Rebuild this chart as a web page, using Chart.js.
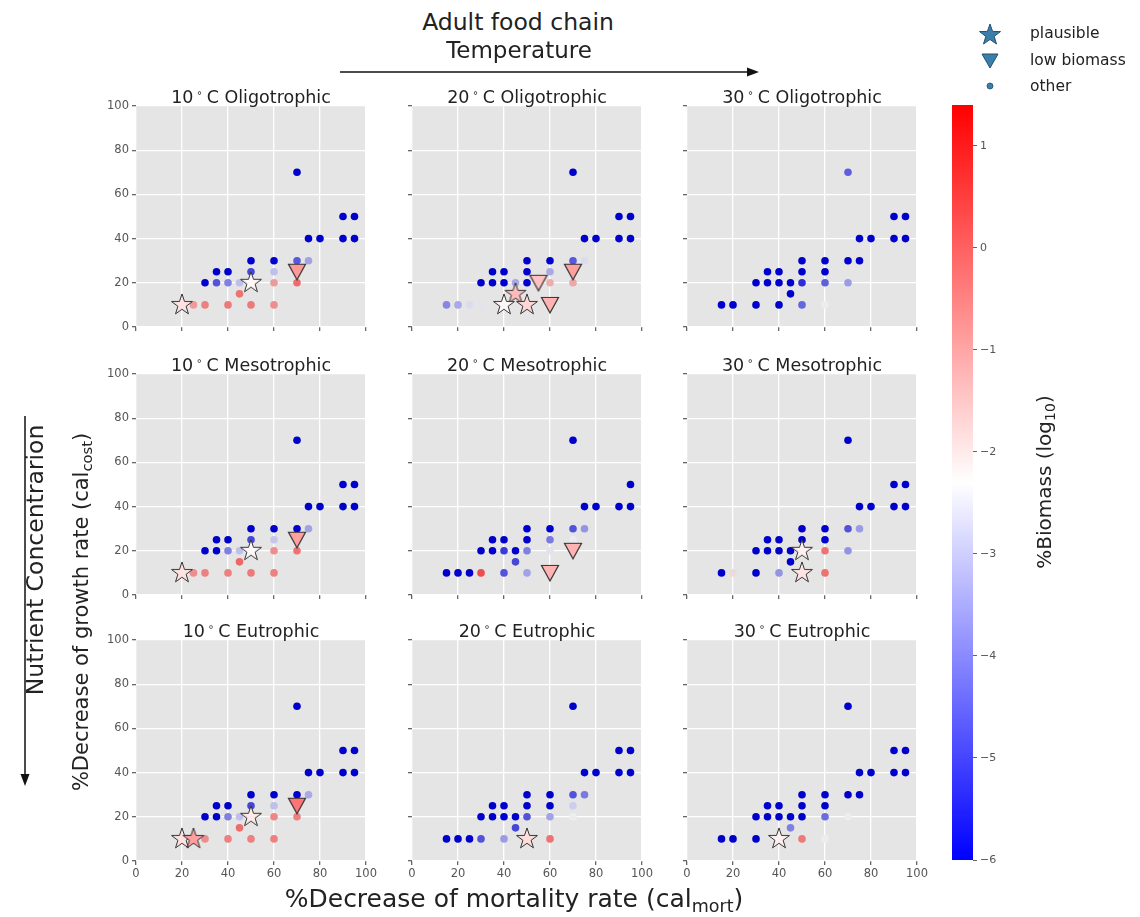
<!DOCTYPE html>
<html>
<head>
<meta charset="utf-8">
<script src="https://cdn.jsdelivr.net/npm/chart.js@4.4.0/dist/chart.umd.min.js"></script>
<style>
  body { margin: 0; width: 1140px; height: 917px; background: #fff; position: relative; overflow: hidden;
         font-family: "DejaVu Sans", sans-serif; color: #222; }
  .abs { position: absolute; white-space: nowrap; }
  .title { position: absolute; width: 230px; text-align: center; font-size: 17.5px; line-height: 20px; }
  .title sup { font-size: 10px; vertical-align: 7px; margin: 0 4px 0 3px; }
  .rot { position: absolute; white-space: nowrap; transform: translate(-50%, -50%) rotate(-90deg); }
  sub { font-size: 0.7em; vertical-align: -0.3em; }
  .leg { position: absolute; font-size: 15.5px; line-height: 18px; }
</style>
</head>
<body>

<script>
// ---- Data ----
const AXIS_TICKS = [0, 20, 40, 60, 80, 100];
const CBAR_TICKS = [1, 0, -1, -2, -3, -4, -5, -6];
const CBAR_MIN = -6, CBAR_MAX = 1.4;
const temps = ["10", "20", "30"];
const nutrients = ["Oligotrophic", "Mesotrophic", "Eutrophic"];

// every point: [% decrease mortality, % decrease growth, log10 %biomass]
const dots10Oligo = [[70,70,-6],[90,50,-6],[95,50,-6],[75,40,-6],[80,40,-6],[90,40,-6],[95,40,-6],
  [50,30,-6],[60,30,-6],[70,30,-4.5],[75,30,-3.4],[35,25,-6],[40,25,-6],[50,25,-4.8],[60,25,-3.0],
  [30,20,-6],[35,20,-4.6],[40,20,-3.9],[45,20,-3.0],[60,20,-1.0],[70,20,-0.3],[45,15,-0.4],
  [25,10,-1.0],[30,10,-0.6],[40,10,-0.5],[50,10,-0.5],[60,10,-0.8]];
const stars10Oligo = [[20,10,-1.9],[50,20,-2.2]];
const tris10Oligo = [[70,25,-0.8]];

const dots20Oligo = [[70,70,-6],[90,50,-6],[95,50,-6],[75,40,-6],[80,40,-6],[90,40,-6],[95,40,-6],
  [50,30,-6],[60,30,-6],[70,30,-4.5],[75,30,-2.6],[35,25,-6],[40,25,-6],[50,25,-6],[60,25,-3.3],
  [30,20,-6],[35,20,-6],[40,20,-6],[45,20,-3.3],[50,20,-6],[60,20,-1.3],[70,20,-1.2],
  [15,10,-3.8],[20,10,-3.3],[25,10,-2.6],[30,10,-2.5]];
const stars20Oligo = [[45,15,-1.3],[40,10,-2.2],[50,10,-1.7]];
const tris20Oligo = [[70,25,-0.9],[55,20,-1.4],[60,10,-1.2]];

const dots30Oligo = [[70,70,-4.4],[90,50,-6],[95,50,-6],[75,40,-6],[80,40,-6],[90,40,-6],[95,40,-6],
  [50,30,-6],[60,30,-6],[70,30,-6],[75,30,-6],[35,25,-6],[40,25,-6],[50,25,-6],[60,25,-6],
  [30,20,-6],[35,20,-6],[40,20,-6],[45,20,-6],[50,20,-5.2],[60,20,-4.4],[70,20,-3.5],[45,15,-6],
  [15,10,-6],[20,10,-6],[30,10,-6],[40,10,-6],[50,10,-4.3],[60,10,-2.3]];
const stars30Oligo = [];
const tris30Oligo = [];

const dots10Meso = [[70,70,-6],[90,50,-6],[95,50,-6],[75,40,-6],[80,40,-6],[90,40,-6],[95,40,-6],
  [50,30,-6],[60,30,-6],[70,30,-6],[75,30,-3.4],[35,25,-6],[40,25,-6],[50,25,-4.8],[60,25,-2.9],
  [30,20,-6],[35,20,-6],[40,20,-3.9],[45,20,-3.0],[60,20,-0.8],[70,20,-0.4],[45,15,-0.2],
  [25,10,-0.8],[30,10,-0.6],[40,10,-0.6],[50,10,-0.5],[60,10,-0.6]];
const stars10Meso = [[20,10,-1.9],[50,20,-2.2]];
const tris10Meso = [[70,25,-0.9]];

const dots20Meso = [[70,70,-6],[95,50,-6],[75,40,-6],[80,40,-6],[90,40,-6],[95,40,-6],
  [50,30,-6],[60,30,-6],[70,30,-4.6],[75,30,-3.6],[35,25,-6],[40,25,-6],[50,25,-6],[60,25,-4.0],[70,25,-2.4],
  [30,20,-6],[35,20,-6],[40,20,-5.0],[45,20,-6],[50,20,-3.9],[60,20,-2.5],[45,15,-4.8],
  [15,10,-6],[20,10,-6],[25,10,-6],[30,10,0.2],[40,10,-4.6],[50,10,-3.4]];
const stars20Meso = [];
const tris20Meso = [[70,20,-1.2],[60,10,-1.2]];

const dots30Meso = [[70,70,-6],[90,50,-6],[95,50,-6],[75,40,-6],[80,40,-6],[90,40,-6],[95,40,-6],
  [50,30,-6],[60,30,-6],[70,30,-4.6],[75,30,-3.5],[35,25,-6],[40,25,-6],[50,25,-6],[60,25,-6],
  [30,20,-6],[35,20,-6],[40,20,-6],[45,20,-6],[60,20,-0.4],[70,20,-3.6],[45,15,-6],
  [15,10,-6],[20,10,-2.0],[30,10,-6],[40,10,-3.6],[60,10,-0.4]];
const stars30Meso = [[50,20,-2.1],[50,10,-1.9]];
const tris30Meso = [];

const dots10Eutro = [[70,70,-6],[90,50,-6],[95,50,-6],[75,40,-6],[80,40,-6],[90,40,-6],[95,40,-6],
  [50,30,-6],[60,30,-6],[70,30,-6],[75,30,-3.3],[35,25,-6],[40,25,-6],[50,25,-4.8],[60,25,-3.0],
  [30,20,-6],[35,20,-6],[40,20,-3.9],[45,20,-3.0],[60,20,-0.7],[70,20,-0.6],[45,15,-0.3],
  [30,10,-0.8],[40,10,-0.6],[50,10,-0.6],[60,10,-0.6]];
const stars10Eutro = [[20,10,-1.9],[25,10,-0.9],[50,20,-2.0]];
const tris10Eutro = [[70,25,-0.3]];

const dots20Eutro = [[70,70,-6],[90,50,-6],[95,50,-6],[75,40,-6],[80,40,-6],[90,40,-6],[95,40,-6],
  [50,30,-6],[60,30,-6],[70,30,-4.6],[75,30,-4.0],[35,25,-6],[40,25,-6],[50,25,-6],[60,25,-6],[70,25,-2.8],
  [30,20,-6],[35,20,-6],[40,20,-6],[45,20,-6],[50,20,-4.6],[60,20,-3.4],[70,20,-2.3],[45,15,-4.8],
  [15,10,-6],[20,10,-6],[25,10,-6],[30,10,-4.6],[40,10,-3.5],[60,10,-0.4]];
const stars20Eutro = [[50,10,-1.8]];
const tris20Eutro = [];

const dots30Eutro = [[70,70,-6],[90,50,-6],[95,50,-6],[75,40,-6],[80,40,-6],[90,40,-6],[95,40,-6],
  [50,30,-6],[60,30,-6],[70,30,-6],[75,30,-6],[35,25,-6],[40,25,-6],[50,25,-6],[60,25,-6],
  [30,20,-6],[35,20,-6],[40,20,-6],[45,20,-6],[50,20,-6],[60,20,-4.2],[70,20,-2.3],[45,15,-3.9],
  [15,10,-6],[20,10,-6],[30,10,-6],[50,10,-0.5],[60,10,-2.3]];
const stars30Eutro = [[40,10,-2.1]];
const tris30Eutro = [];

// rows = nutrient level, cols = temperature
const PANELS = [
  [[dots10Oligo, stars10Oligo, tris10Oligo], [dots20Oligo, stars20Oligo, tris20Oligo], [dots30Oligo, stars30Oligo, tris30Oligo]],
  [[dots10Meso, stars10Meso, tris10Meso], [dots20Meso, stars20Meso, tris20Meso], [dots30Meso, stars30Meso, tris30Meso]],
  [[dots10Eutro, stars10Eutro, tris10Eutro], [dots20Eutro, stars20Eutro, tris20Eutro], [dots30Eutro, stars30Eutro, tris30Eutro]]
];

// ---- Layout ----
const COL_LEFT = [136, 412, 687];
const ROW_TOP  = [106, 374, 640];
const PLOT_W = 230, PLOT_H = 221;
const PAD_L = 46, PAD_R = 14, PAD_T = 10, PAD_B = 30;

// ---- Colours (bwr colormap) ----
function bwr(v) {
  let t = (v - CBAR_MIN) / (CBAR_MAX - CBAR_MIN);
  t = Math.max(0, Math.min(1, t));
  if (t < 0.5) return [2 * t, 2 * t, 1];
  return [1, 2 * (1 - t), 2 * (1 - t)];
}
function rgb(c, k) {
  k = k || 1;
  return "rgb(" + c.map(x => Math.round(x * 255 * k)).join(",") + ")";
}
// small dots read a bit darker than the bar on the blue side
function dotColor(v) {
  const t = (v - CBAR_MIN) / (CBAR_MAX - CBAR_MIN);
  const k = t < 0.5 ? 0.8 + 0.3 * t : 0.93;
  return rgb(bwr(v), k);
}

const cache = {};
function starImg(fill) {
  if (cache["s" + fill]) return cache["s" + fill];
  const c = document.createElement("canvas");
  c.width = c.height = 26;
  const g = c.getContext("2d");
  g.beginPath();
  for (let i = 0; i < 10; i++) {
    const r = i % 2 ? 4.3 : 11;
    const a = -Math.PI / 2 + i * Math.PI / 5;
    g.lineTo(13 + r * Math.cos(a), 13 + r * Math.sin(a));
  }
  g.closePath();
  g.fillStyle = fill; g.fill();
  g.lineWidth = 1; g.strokeStyle = "#333"; g.stroke();
  return (cache["s" + fill] = c);
}
function triImg(fill) {
  if (cache["t" + fill]) return cache["t" + fill];
  const c = document.createElement("canvas");
  c.width = c.height = 22;
  const g = c.getContext("2d");
  g.beginPath();
  g.moveTo(2.5, 3.5); g.lineTo(19.5, 3.5); g.lineTo(11, 19); g.closePath();
  g.fillStyle = fill; g.fill();
  g.lineWidth = 1.2; g.strokeStyle = "#333"; g.stroke();
  return (cache["t" + fill] = c);
}

const bgPlugin = {
  id: "bg",
  beforeDraw(chart) {
    const a = chart.chartArea, ctx = chart.ctx;
    ctx.save();
    ctx.fillStyle = "#e5e5e5";
    ctx.fillRect(a.left, a.top, a.right - a.left, a.bottom - a.top);
    ctx.restore();
  }
};

const toPts = arr => arr.map(p => ({ x: p[0], y: p[1], v: p[2] }));
const valOf = c => (c.raw && c.raw.v !== undefined ? c.raw.v : -6);

function makePanel(row, col) {
  const [dots, stars, tris] = PANELS[row][col];
  const W = PLOT_W + PAD_L + PAD_R, H = PLOT_H + PAD_T + PAD_B;
  const cv = document.createElement("canvas");
  cv.width = W; cv.height = H;
  cv.style.cssText = "position:absolute;left:" + (COL_LEFT[col] - PAD_L) + "px;top:" + (ROW_TOP[row] - PAD_T) + "px";
  document.body.appendChild(cv);

  const t = document.createElement("div");
  t.className = "title";
  t.style.left = COL_LEFT[col] + "px";
  t.style.top = (ROW_TOP[row] - 23) + "px";
  t.innerHTML = temps[col] + "<sup>∘</sup>C " + nutrients[row];
  document.body.appendChild(t);

  const tickFont = { family: "DejaVu Sans", size: 11.5 };
  new Chart(cv, {
    type: "scatter",
    data: {
      datasets: [
        { data: toPts(stars), order: 1, pointStyle: c => starImg(rgb(bwr(valOf(c)))) },
        { data: toPts(tris), order: 2, pointStyle: c => triImg(rgb(bwr(valOf(c)))) },
        { data: toPts(dots), order: 3, pointStyle: "circle", pointRadius: 3.8, borderWidth: 0,
          backgroundColor: c => dotColor(valOf(c)) }
      ]
    },
    options: {
      responsive: false, animation: false, events: [],
      layout: { padding: { top: PAD_T, right: PAD_R, left: 0, bottom: 0 } },
      plugins: { legend: { display: false }, tooltip: { enabled: false } },
      scales: {
        x: {
          type: "linear", min: 0, max: 100,
          afterBuildTicks: s => { s.ticks = AXIS_TICKS.map(v => ({ value: v })); },
          afterFit: s => { s.height = PAD_B; },
          ticks: { color: "#555", font: tickFont, padding: 2, maxRotation: 0,
                   callback: v => row === 2 ? v : "" },
          grid: { color: "#fff", lineWidth: 1.3, tickColor: "#666", tickLength: 4 },
          border: { display: false }
        },
        y: {
          type: "linear", min: 0, max: 100,
          afterBuildTicks: s => { s.ticks = AXIS_TICKS.map(v => ({ value: v })); },
          afterFit: s => { s.width = PAD_L; },
          ticks: { color: "#555", font: tickFont, padding: 3,
                   callback: v => col === 0 ? v : "" },
          grid: { color: "#fff", lineWidth: 1.3, tickColor: "#666", tickLength: 4 },
          border: { display: false }
        }
      }
    },
    plugins: [bgPlugin]
  });
}

for (let r = 0; r < 3; r++) for (let c = 0; c < 3; c++) makePanel(r, c);

// ---- Colorbar ----
const cbPlugin = {
  id: "cbar",
  beforeDraw(chart) {
    const a = chart.chartArea, ctx = chart.ctx;
    const g = ctx.createLinearGradient(0, a.bottom, 0, a.top);
    g.addColorStop(0, "rgb(0,0,255)");
    g.addColorStop(0.5, "rgb(255,255,255)");
    g.addColorStop(1, "rgb(255,0,0)");
    ctx.save();
    ctx.fillStyle = g;
    ctx.fillRect(a.left, a.top, a.right - a.left, a.bottom - a.top);
    ctx.restore();
  }
};
(function () {
  const cv = document.createElement("canvas");
  cv.width = 70; cv.height = 775;
  cv.style.cssText = "position:absolute;left:952px;top:95px";
  document.body.appendChild(cv);
  new Chart(cv, {
    type: "scatter",
    data: { datasets: [{ data: [] }] },
    options: {
      responsive: false, animation: false, events: [],
      layout: { padding: { top: 10, bottom: 10, left: 0, right: 0 } },
      plugins: { legend: { display: false }, tooltip: { enabled: false } },
      scales: {
        x: { type: "linear", min: 0, max: 1, display: false },
        y: {
          type: "linear", position: "right", min: CBAR_MIN, max: CBAR_MAX,
          afterBuildTicks: s => { s.ticks = CBAR_TICKS.map(v => ({ value: v })); },
          afterFit: s => { s.width = 49; },
          ticks: { color: "#555", font: { family: "DejaVu Sans", size: 11 }, padding: 3,
                   callback: v => (v < 0 ? "\u2212" + Math.abs(v) : "" + v) },
          grid: { drawOnChartArea: false, tickColor: "#666", tickLength: 4 },
          border: { display: false }
        }
      }
    },
    plugins: [cbPlugin]
  });
})();
</script>

<!-- annotations -->
<div class="abs" style="left:518px;top:22px;transform:translate(-50%,-50%);font-size:23.5px">Adult food chain</div>
<div class="abs" style="left:519px;top:50px;transform:translate(-50%,-50%);font-size:23px">Temperature</div>
<svg class="abs" style="left:0;top:0" width="1140" height="917">
  <line x1="340" y1="72" x2="748" y2="72" stroke="#111" stroke-width="1.5"/>
  <polygon points="759,72 747,67.5 747,76.5" fill="#111"/>
  <line x1="25" y1="416" x2="25" y2="775" stroke="#111" stroke-width="1.5"/>
  <polygon points="25,786 20.5,774 29.5,774" fill="#111"/>
</svg>
<div class="rot" style="left:35px;top:560px;font-size:23.5px">Nutrient Concentrarion</div>
<div class="rot" style="left:82px;top:612px;font-size:21px">%Decrease of growth rate (cal<sub>cost</sub>)</div>
<div class="abs" style="left:514px;top:900px;transform:translate(-50%,-50%);font-size:25px">%Decrease of mortality rate (cal<sub>mort</sub>)</div>
<div class="rot" style="left:1045px;top:482px;font-size:20px">%Biomass (log<sub>10</sub>)</div>

<!-- legend -->
<svg class="abs" style="left:975px;top:20px" width="32" height="80">
  <polygon points="15,4 17.6,11.4 25.5,11.6 19.2,16.4 21.5,24 15,19.5 8.5,24 10.8,16.4 4.5,11.6 12.4,11.4"
           fill="#3b7dab" stroke="#24506e" stroke-width="1"/>
  <polygon points="7,34 23,34 15,48" fill="#3b7dab" stroke="#24506e" stroke-width="1"/>
  <circle cx="15" cy="66" r="3" fill="#3b7dab" stroke="#24506e" stroke-width="0.8"/>
</svg>
<div class="leg" style="left:1030px;top:24px">plausible</div>
<div class="leg" style="left:1030px;top:51px">low biomass</div>
<div class="leg" style="left:1030px;top:77px">other</div>

</body>
</html>
